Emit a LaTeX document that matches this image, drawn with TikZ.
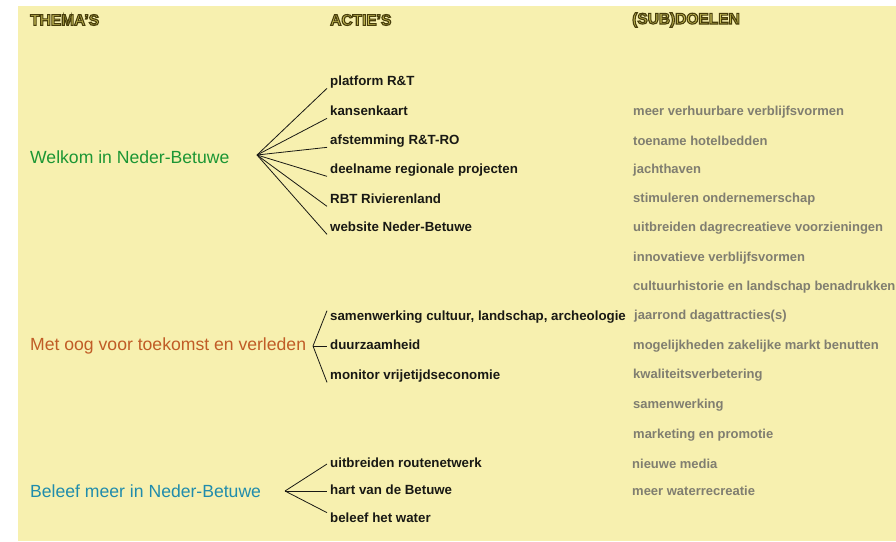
\documentclass[tikz,border=0pt]{standalone}
\usepackage{fontspec}
\setmainfont{Liberation Sans}
\usetikzlibrary{positioning,calc}

\definecolor{bgyellow}{RGB}{247,240,175}
\definecolor{hdrfill}{RGB}{200,190,85}
\definecolor{hdredge}{RGB}{72,62,12}
\definecolor{themegreen}{RGB}{28,150,52}
\definecolor{themeorange}{RGB}{192,92,38}
\definecolor{themeblue}{RGB}{32,140,172}
\definecolor{goalgrey}{RGB}{128,126,112}
\definecolor{actblack}{RGB}{25,25,20}

% letters with a dark rim, as in the column heads
\newcommand\rimtext[1]{%
  {\color{hdrfill}\special{pdf:literal direct 2 Tr 1.1 w 0.282 0.243 0.047 RG}#1%
   \special{pdf:literal direct 0 Tr}}}

\begin{document}
\begin{tikzpicture}[x=1pt,y=-1pt]
        \tikzstyle{head}=[anchor=west,inner sep=0pt,font=\bfseries\fontsize{15.5}{18}\selectfont]
        \tikzstyle{theme}=[anchor=west,inner sep=0pt,font=\fontsize{17.6}{20}\selectfont]
        \tikzstyle{act}=[anchor=west,inner xsep=3pt,inner ysep=0pt,text height=9.5pt,text depth=2.8pt,
            text=actblack,font=\bfseries\fontsize{13.3}{15}\selectfont]
        \tikzstyle{goal}=[anchor=west,inner sep=0pt,text=goalgrey,font=\bfseries\fontsize{13}{15}\selectfont]
        \tikzstyle{twig}=[draw=actblack,line width=0.8pt]

        \useasboundingbox (0,0) rectangle (896,541);
        \fill[white] (0,0) rectangle (896,541);
        \fill[bgyellow] (18,6) rectangle (896,541);

        %%% Heads
        \node[head] (hthema) at (30,20) {\rimtext{THEMA'S}};
        \node[head] (hactie) at (330,20) {\rimtext{ACTIE'S}};
        \node[head] (hdoel) at (632,20) {\rimtext{(SUB)DOELEN}};

        %%% Themes
        \node[theme,text=themegreen] (t1) at (30,157) {Welkom in Neder-Betuwe};
        \node[theme,text=themeorange] (t2) at (30,346) {Met oog voor toekomst en verleden};
        \node[theme,text=themeblue] (t3) at (30,491) {Beleef meer in Neder-Betuwe};

        \coordinate (hub1) at (257,155);
        \coordinate (hub2) at (313,346);
        \coordinate (hub3) at (285,491);

        %%% Actions
        \node[act] (a11) at (327,82) {platform R\&T};
        \node[act] (a12) at (327,112) {kansenkaart};
        \node[act] (a13) at (327,141) {afstemming R\&T-RO};
        \node[act] (a14) at (327,170) {deelname regionale projecten};
        \node[act] (a15) at (327,200) {RBT Rivierenland};
        \node[act] (a16) at (327,228) {website Neder-Betuwe};

        \node[act] (a21) at (327,317) {samenwerking cultuur, landschap, archeologie};
        \node[act] (a22) at (327,346) {duurzaamheid};
        \node[act] (a23) at (327,376) {monitor vrijetijdseconomie};

        \node[act] (a31) at (327,464) {uitbreiden routenetwerk};
        \node[act] (a32) at (327,491) {hart van de Betuwe};
        \node[act] (a33) at (327,519) {beleef het water};

        \draw[twig] (hub1) -- (a11.south west);
        \draw[twig] (hub1) -- (a12.south west);
        \draw[twig] (hub1) -- (a13.south west);
        \draw[twig] (hub1) -- (a14.south west);
        \draw[twig] (hub1) -- (a15.south west);
        \draw[twig] (hub1) -- (a16.south west);

        \draw[twig] (hub2) -- (a21.north west);
        \draw[twig] (hub2) -- (a22.west);
        \draw[twig] (hub2) -- (a23.south west);

        \draw[twig] (hub3) -- (a31.west);
        \draw[twig] (hub3) -- (a32.west);
        \draw[twig] (hub3) -- (a33.north west);

        %%% (Sub)goals
        \node[goal] (g01) at (633,112) {meer verhuurbare verblijfsvormen};
        \node[goal] (g02) at (633,141) {toename hotelbedden};
        \node[goal] (g03) at (633,170) {jachthaven};
        \node[goal] (g04) at (633,199) {stimuleren ondernemerschap};
        \node[goal] (g05) at (633,228) {uitbreiden dagrecreatieve voorzieningen};
        \node[goal] (g06) at (633,258) {innovatieve verblijfsvormen};
        \node[goal] (g07) at (633,287) {cultuurhistorie en landschap benadrukken};
        \node[goal] (g08) at (634,316) {jaarrond dagattracties(s)};
        \node[goal] (g09) at (633,346) {mogelijkheden zakelijke markt benutten};
        \node[goal] (g10) at (633,375) {kwaliteitsverbetering};
        \node[goal] (g11) at (633,405) {samenwerking};
        \node[goal] (g12) at (633,435) {marketing en promotie};
        \node[goal] (g13) at (632,464) {nieuwe media};
        \node[goal] (g14) at (632,491) {meer waterrecreatie};
\end{tikzpicture}
\end{document}
